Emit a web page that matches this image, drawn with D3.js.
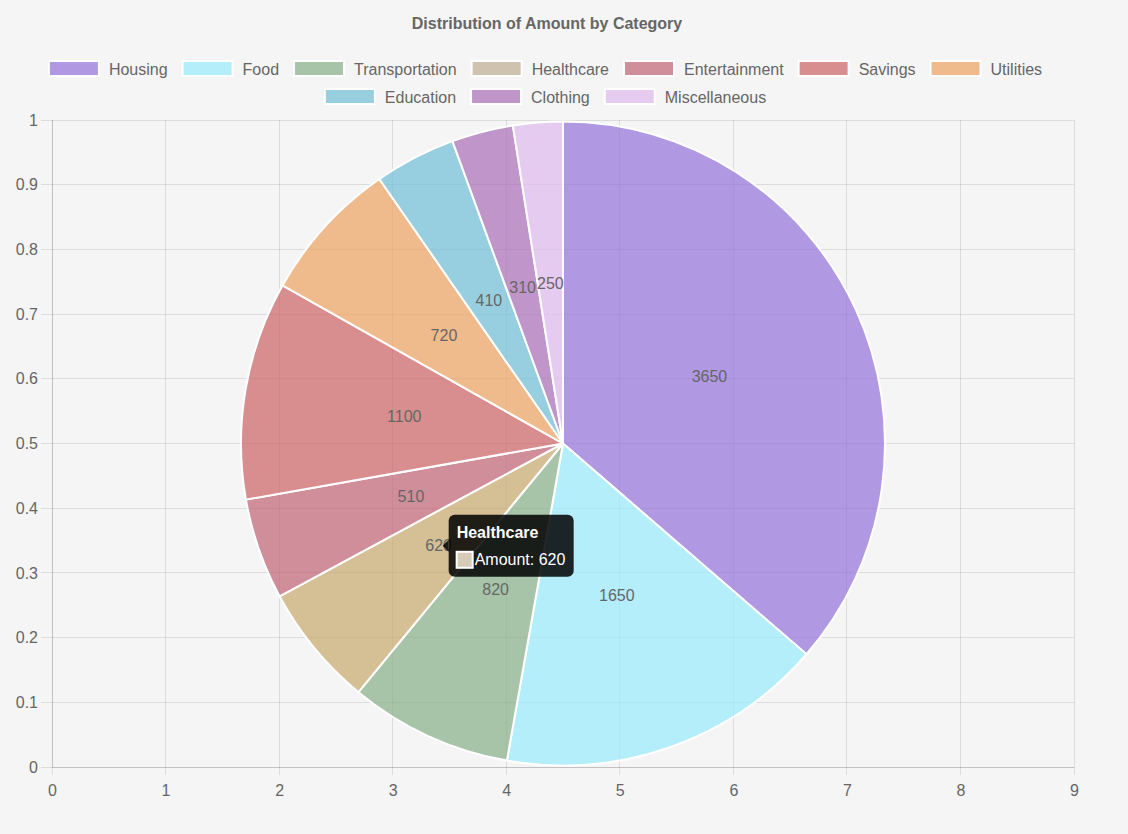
<!DOCTYPE html>
<html>
<head>
<meta charset="utf-8">
<script src="https://cdn.jsdelivr.net/npm/d3@7"></script>
<style>
  html, body { margin: 0; padding: 0; background: #f5f5f5; }
  svg { display: block; font-family: "Liberation Sans", Arial, Helvetica, sans-serif; }
</style>
</head>
<body>
<svg id="chart" width="1128" height="834"></svg>
<script>
// ---- data ----
const categories = ["Housing", "Food", "Transportation", "Healthcare", "Entertainment", "Savings", "Utilities", "Education", "Clothing", "Miscellaneous"];
const amounts = [3650, 1650, 820, 620, 510, 1100, 720, 410, 310, 250];
const colors = ["rgba(147,112,219,0.7)", "rgba(152,235,252,0.7)", "rgba(134,175,135,0.7)", "rgba(191,174,146,0.7)", "rgba(192,99,116,0.7)", "rgba(204,99,99,0.7)", "rgba(238,162,95,0.7)", "rgba(112,191,215,0.7)", "rgba(169,109,184,0.7)", "rgba(224,185,238,0.7)"];
const xTicks = [0, 1, 2, 3, 4, 5, 6, 7, 8, 9];
const yTicks = [0, 0.1, 0.2, 0.3, 0.4, 0.5, 0.6, 0.7, 0.8, 0.9, 1];
const titleText = "Distribution of Amount by Category";
const hovered = "Healthcare";
const hoverColor = "rgba(199,169,109,0.7)";
const tooltipSwatch = "#d6cbb8";
const seriesLabel = "Amount";

const svg = d3.select("#chart");
const area = { left: 52, right: 1074, top: 120, bottom: 767 };
const textColor = "#666";

// ---- title ----
svg.append("text")
  .attr("x", 547).attr("y", 29)
  .attr("text-anchor", "middle")
  .attr("font-size", 16).attr("font-weight", "bold")
  .attr("fill", textColor)
  .text(titleText);

// ---- legend ----
const legend = svg.append("g");
const items = categories.map((c, i) => {
  const g = legend.append("g");
  g.append("rect").attr("x", 1).attr("y", -14).attr("width", 50).attr("height", 15)
    .attr("fill", colors[i]).attr("stroke", "#fff").attr("stroke-width", 2);
  const t = g.append("text").attr("x", 61).attr("y", 0).attr("font-size", 16)
    .attr("fill", textColor).text(c);
  const w = 61 + t.node().getComputedTextLength();
  return { g, w };
});
const maxRow = 1060, gap = 14;
const rows = [[]];
let cur = 0;
items.forEach(it => {
  const add = (rows[rows.length - 1].length ? gap : 0) + it.w;
  if (cur + add > maxRow && rows[rows.length - 1].length) { rows.push([it]); cur = it.w; }
  else { rows[rows.length - 1].push(it); cur += add; }
});
rows.forEach((row, r) => {
  const total = d3.sum(row, d => d.w) + gap * (row.length - 1);
  let x = 545 - total / 2;
  const y = 75 + r * 28;
  row.forEach(it => { it.g.attr("transform", `translate(${x},${y})`); x += it.w + gap; });
});

// ---- scales & grid ----
const x = d3.scaleLinear().domain([0, 9]).range([area.left, area.right]);
const y = d3.scaleLinear().domain([0, 1]).range([area.bottom, area.top]);

const grid = svg.append("g");
xTicks.forEach(t => {
  grid.append("line").attr("x1", x(t)).attr("x2", x(t)).attr("y1", area.top).attr("y2", area.bottom + 8)
    .attr("stroke", "rgba(0,0,0,0.1)").attr("stroke-width", 1).attr("shape-rendering", "crispEdges");
});
yTicks.forEach(t => {
  grid.append("line").attr("x1", area.left - 11).attr("x2", area.right).attr("y1", y(t)).attr("y2", y(t))
    .attr("stroke", "rgba(0,0,0,0.1)").attr("stroke-width", 1).attr("shape-rendering", "crispEdges");
});
grid.append("line").attr("x1", area.left).attr("x2", area.left).attr("y1", area.top).attr("y2", area.bottom)
  .attr("stroke", "rgba(0,0,0,0.12)").attr("shape-rendering", "crispEdges");
grid.append("line").attr("x1", area.left).attr("x2", area.right).attr("y1", area.bottom).attr("y2", area.bottom)
  .attr("stroke", "rgba(0,0,0,0.12)").attr("shape-rendering", "crispEdges");

const xAxis = svg.append("g").attr("transform", `translate(0,${area.bottom})`)
  .call(d3.axisBottom(x).tickValues(xTicks).tickSize(0).tickPadding(0).tickFormat(d3.format("d")));
xAxis.select(".domain").remove();
xAxis.selectAll("text").attr("dy", 29).attr("font-size", 16).attr("fill", textColor)
  .attr("font-family", "Liberation Sans, Arial, sans-serif");

const yAxis = svg.append("g").attr("transform", `translate(${area.left},0)`)
  .call(d3.axisLeft(y).tickValues(yTicks).tickSize(0).tickPadding(14).tickFormat(d => d3.format("~g")(d)));
yAxis.select(".domain").remove();
yAxis.selectAll("text").attr("font-size", 16).attr("fill", textColor)
  .attr("font-family", "Liberation Sans, Arial, sans-serif");

// ---- pie ----
const cx = (area.left + area.right) / 2;
const cy = (area.top + area.bottom) / 2;
const R = Math.min(area.right - area.left, area.bottom - area.top) / 2 - 1.5;
const pie = d3.pie().sort(null).value(d => d.v);
const arcs = pie(categories.map((c, i) => ({ c, v: amounts[i], col: colors[i] })));
const arc = d3.arc().innerRadius(0).outerRadius(R);
const labelArc = d3.arc().innerRadius(0).outerRadius(R);

const pg = svg.append("g").attr("transform", `translate(${cx},${cy})`);
pg.selectAll("path").data(arcs).enter().append("path")
  .attr("d", arc)
  .attr("fill", d => d.data.c === hovered ? hoverColor : d.data.col)
  .attr("stroke", "#fff").attr("stroke-width", 2).attr("stroke-linejoin", "round");

pg.selectAll("text.lbl").data(arcs).enter().append("text")
  .attr("class", "lbl")
  .attr("transform", d => `translate(${labelArc.centroid(d)})`)
  .attr("text-anchor", "middle").attr("dy", "0.35em")
  .attr("font-size", 16).attr("fill", textColor)
  .text(d => d.data.v);

// ---- tooltip ----
const hi = categories.indexOf(hovered);
const [lx, ly] = labelArc.centroid(arcs[hi]);
const tx = cx + lx, ty = cy + ly;
const bw = 125, bh = 62;
const bx = tx + 10, by = ty - bh / 2;
const tip = svg.append("g");
tip.append("path")
  .attr("d", `M${bx - 6},${ty} L${bx},${ty - 6} L${bx},${ty + 6} Z`)
  .attr("fill", "rgba(0,0,0,0.85)");
tip.append("rect").attr("x", bx).attr("y", by).attr("width", bw).attr("height", bh)
  .attr("rx", 6).attr("fill", "rgba(0,0,0,0.85)");
tip.append("text").attr("x", bx + 8).attr("y", by + 23).attr("font-size", 16)
  .attr("font-weight", "bold").attr("fill", "#fff").text(hovered);
tip.append("rect").attr("x", bx + 8).attr("y", by + 37).attr("width", 16).attr("height", 16)
  .attr("fill", tooltipSwatch).attr("stroke", "#fff").attr("stroke-width", 2);
tip.append("text").attr("x", bx + 26).attr("y", by + 50).attr("font-size", 16)
  .attr("fill", "#fff").text(`${seriesLabel}: ${amounts[hi]}`);
</script>
</body>
</html>
